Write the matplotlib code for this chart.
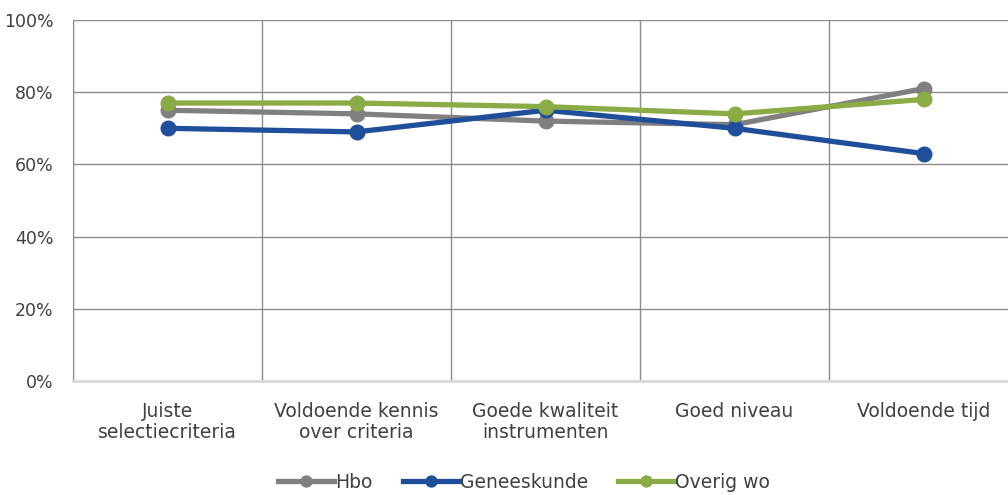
import matplotlib
matplotlib.use('Agg')
import matplotlib.pyplot as plt
import numpy as np

categories = ['Juiste\nselectiecriteria', 'Voldoende kennis\nover criteria', 'Goede kwaliteit\ninstrumenten',
              'Goed niveau', 'Voldoende tijd']
hbo = [75, 74, 72, 71, 81]
geneeskunde = [70, 69, 75, 70, 63]
overig_wo = [77, 77, 76, 74, 78]
yticks = [0, 20, 40, 60, 80, 100]

plt.rcParams['font.family'] = ['DejaVu Sans']
txt = '#404040'
fs = 13.5

fig = plt.figure(figsize=(10.08, 4.95), dpi=100)
ax = fig.add_axes([73/1008, 1 - 381/495, 945/1008, 361/495])

x = np.arange(len(categories))
ax.plot(x, hbo, color='#808080', lw=3.8, marker='o', ms=10.5, label='Hbo', zorder=3)
ax.plot(x, geneeskunde, color='#1F4E9A', lw=3.8, marker='o', ms=10.5, label='Geneeskunde', zorder=4)
ax.plot(x, overig_wo, color='#8AAB45', lw=3.8, marker='o', ms=10.5, label='Overig wo', zorder=5)

ax.set_xlim(-0.5, len(categories) - 0.5)
ax.set_ylim(0, 100)
ax.set_yticks(yticks)
ax.set_yticklabels([f'{v}%' for v in yticks], color=txt, fontsize=12.5)
ax.set_xticks(x)
ax.set_xticklabels(categories, color=txt, fontsize=fs, linespacing=1.15)
ax.set_xticks(np.arange(len(categories) + 1) - 0.5, minor=True)
ax.tick_params(axis='both', which='both', length=0)
ax.tick_params(axis='y', pad=14)
ax.tick_params(axis='x', pad=15)
ax.grid(True, axis='y', color='#8c8c8c', lw=1)
ax.grid(True, axis='x', which='minor', color='#8c8c8c', lw=1)
ax.grid(False, axis='x', which='major')
ax.set_axisbelow(True)
for s in ['top', 'right']:
    ax.spines[s].set_visible(False)
ax.spines['left'].set_color('#8c8c8c')
ax.spines['bottom'].set_color('#d9d9d9')
ax.spines['bottom'].set_linewidth(2)

leg = fig.legend(loc='center', bbox_to_anchor=(0.52, 1 - 482/495), ncol=3, frameon=False,
                 fontsize=fs, handlelength=3.0, handletextpad=0.05, columnspacing=1.6, markerscale=0.75)
for t in leg.get_texts():
    t.set_color(txt)

fig.savefig('out.png', dpi=100)
